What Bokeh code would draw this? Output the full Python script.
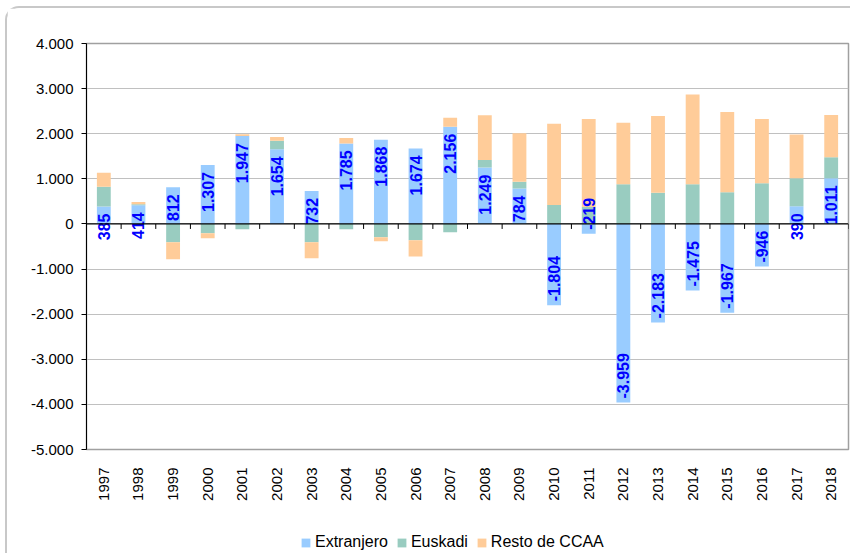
import math
from bokeh.plotting import figure
from bokeh.layouts import column
from bokeh.models import (Range1d, LinearAxis, FixedTicker, Legend, LegendItem,
                          ColumnDataSource, Span)
from bokeh.core.properties import value
from bokeh.embed import file_html
from bokeh.resources import INLINE

years = ["1997", "1998", "1999", "2000", "2001", "2002", "2003", "2004", "2005", "2006",
         "2007", "2008", "2009", "2010", "2011", "2012", "2013", "2014", "2015", "2016",
         "2017", "2018"]
extranjero = [385, 414, 812, 1307, 1947, 1654, 732, 1785, 1868, 1674, 2156, 1249, 784,
              -1804, -219, -3959, -2183, -1475, -1967, -946, 390, 1011]
euskadi = [437, 20, -407, -207, -118, 190, -407, -118, -296, -363, -185, 170, 150,
           422, 375, 881, 689, 881, 704, 904, 625, 470]
resto = [311, 50, -378, -111, 40, 82, -356, 120, -89, -356, 200, 993, 1074,
         1800, 1950, 1363, 1704, 1986, 1777, 1422, 970, 934]

series_names = ["Extranjero", "Euskadi", "Resto de CCAA"]
series_values = [extranjero, euskadi, resto]
colors = ["#99CCFF", "#99CCC0", "#FFCC99"]

y_ticks = [-5000, -4000, -3000, -2000, -1000, 0, 1000, 2000, 3000, 4000]


def fmt(v):
    return f"{v:,}".replace(",", ".")


FONT = "Liberation Sans"
n = len(years)
xc = [i + 0.5 for i in range(n)]

W = 843
p = figure(width=W, height=518, output_backend="svg", toolbar_location=None,
           x_range=Range1d(0, n), y_range=Range1d(y_ticks[0], y_ticks[-1]),
           min_border_left=79, min_border_right=2, min_border_top=35, min_border_bottom=77,
           x_axis_location=None, y_axis_location=None)
p.background_fill_color = "white"
p.border_fill_color = "white"
p.outline_line_color = "#A0A0A0"
p.outline_line_width = 1.5

# stacked bars (positives and negatives stacked separately)
pos_base = [0] * n
neg_base = [0] * n
sources = []
for name, vals, col in zip(series_names, series_values, colors):
    bottoms, tops = [], []
    for i, v in enumerate(vals):
        if v >= 0:
            bottoms.append(pos_base[i]); tops.append(pos_base[i] + v); pos_base[i] += v
        else:
            tops.append(neg_base[i]); bottoms.append(neg_base[i] + v); neg_base[i] += v
    src = ColumnDataSource(dict(x=xc, bottom=bottoms, top=tops))
    sources.append(src)
    p.vbar(x="x", bottom="bottom", top="top", width=0.4, source=src,
           fill_color=col, line_color=None)

# y axis
yax = LinearAxis(ticker=FixedTicker(ticks=y_ticks),
                 major_label_overrides={t: fmt(t) for t in y_ticks})
yax.axis_line_color = "black"
yax.major_tick_out = 5
yax.major_tick_in = 0
yax.minor_tick_line_color = None
yax.major_label_text_font = FONT
yax.major_label_text_font_size = "15px"
yax.major_label_text_color = "black"
yax.major_label_standoff = 8
p.add_layout(yax, "left")

# grid
p.ygrid.ticker = FixedTicker(ticks=y_ticks)
p.ygrid.grid_line_color = "#C0C0C0"
p.xgrid.grid_line_color = None

# zero line with ticks between categories
p.add_layout(Span(location=0, dimension="width", line_color="black", line_width=1.2))
p.ray(x=list(range(n + 1)), y=[0] * (n + 1), length=5, length_units="screen",
      angle=-math.pi / 2, line_color="black", line_width=1)

# category label axis at bottom
xax = LinearAxis(ticker=FixedTicker(ticks=xc),
                 major_label_overrides={c: y for c, y in zip(xc, years)})
xax.axis_line_color = None
xax.major_tick_line_color = None
xax.minor_tick_line_color = None
xax.major_label_orientation = math.pi / 2
xax.major_label_text_font = FONT
xax.major_label_text_font_size = "15px"
xax.major_label_text_color = "black"
xax.major_label_standoff = 12
p.add_layout(xax, "below")

# data labels for Extranjero
pos_src = ColumnDataSource(dict(x=[c for c, v in zip(xc, extranjero) if v >= 0],
                                y=[v for v in extranjero if v >= 0],
                                t=[fmt(v) for v in extranjero if v >= 0]))
neg_src = ColumnDataSource(dict(x=[c for c, v in zip(xc, extranjero) if v < 0],
                                y=[v for v in extranjero if v < 0],
                                t=[fmt(v) for v in extranjero if v < 0]))
common = dict(text="t", angle=math.pi / 2, text_color="#0000FF", text_font_style="bold",
              text_font_size="16px", text_baseline="middle", text_font=value(FONT))
p.text(x="x", y="y", source=pos_src, text_align="right", y_offset=7, **common)
p.text(x="x", y="y", source=neg_src, text_align="left", y_offset=-4, **common)

# legend strip (same bar data, view range kept off the bars so only the legend shows)
p2 = figure(width=W, height=27, output_backend="svg", toolbar_location=None,
            x_range=Range1d(1000, 1001), y_range=Range1d(100000, 100001),
            x_axis_location=None, y_axis_location=None,
            min_border_left=0, min_border_right=0, min_border_top=0, min_border_bottom=0)
p2.outline_line_color = None
p2.background_fill_color = "white"
p2.border_fill_color = "white"
p2.grid.visible = False
leg_renderers = [p2.vbar(x="x", bottom="bottom", top="top", width=0.4, source=src,
                         fill_color=col, line_color=None)
                 for src, col in zip(sources, colors)]
legend = Legend(items=[LegendItem(label=nm, renderers=[r])
                       for nm, r in zip(series_names, leg_renderers)],
                orientation="horizontal", location=(214, 2))
legend.label_text_font = FONT
legend.label_text_font_size = "16px"
legend.label_text_color = "black"
legend.glyph_width = 11
legend.glyph_height = 11
legend.label_standoff = 4
legend.spacing = 8
legend.border_line_color = None
legend.background_fill_alpha = 0
legend.margin = 0
legend.padding = 2
p2.add_layout(legend, "center")

layout = column(p, p2, spacing=0)
layout.styles = {"margin-left": "5px", "margin-top": "6px",
                 "border-top": "2px solid #C8C8C8", "border-left": "2px solid #C8C8C8",
                 "border-top-left-radius": "14px", "background-color": "white"}

open("out.html", "w").write(file_html(layout, INLINE))
